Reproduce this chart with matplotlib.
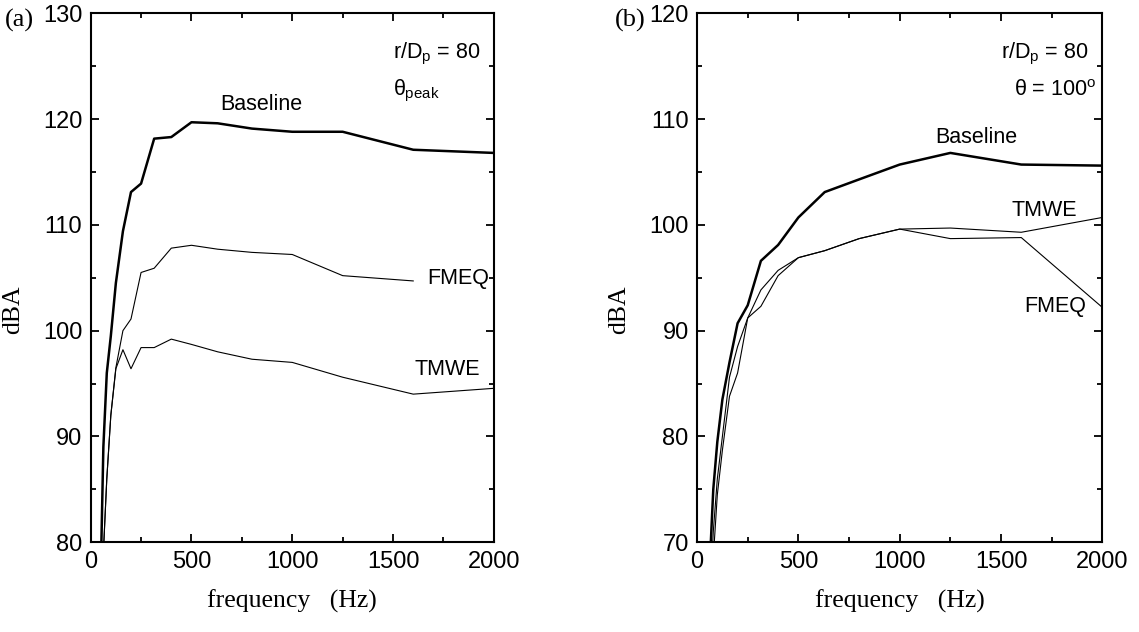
import matplotlib
matplotlib.use("Agg")
import matplotlib.pyplot as plt
from matplotlib.ticker import MultipleLocator

plt.rcParams['font.family'] = ['Liberation Sans', 'DejaVu Sans']
plt.rcParams['mathtext.fontset'] = 'custom'
plt.rcParams['mathtext.rm'] = 'Liberation Sans'
plt.rcParams['mathtext.it'] = 'Liberation Sans'

# 1/3-octave band centre frequencies (Hz)
freq = [50, 63, 80, 100, 125, 160, 200, 250, 315, 400, 500, 630, 800, 1000, 1250, 1600, 2000]

# (a) peak angle
a_baseline = [77.0, 89.0, 96.0, 99.5, 104.5, 109.4, 113.1, 113.9, 118.15, 118.3, 119.7, 119.6, 119.1, 118.8, 118.8, 117.1, 116.8]
a_fmeq_freq = freq[:-1]
a_fmeq = [70.0, 79.0, 86.0, 92.0, 96.5, 100.0, 101.1, 105.5, 105.9, 107.8, 108.07, 107.7, 107.4, 107.2, 105.2, 104.7]
a_tmwe = [70.0, 79.0, 86.0, 92.0, 96.4, 98.2, 96.4, 98.4, 98.4, 99.2, 98.7, 98.0, 97.3, 97.0, 95.6, 94.0, 94.55]

# (b) theta = 100 deg
b_baseline = [62.0, 68.0, 75.0, 79.5, 83.5, 87.0, 90.7, 92.4, 96.6, 98.1, 100.7, 103.1, 104.3, 105.7, 106.8, 105.7, 105.6]
b_tmwe = [60.0, 64.0, 71.0, 76.0, 80.0, 85.6, 88.5, 91.2, 93.85, 95.7, 96.9, 97.56, 98.7, 99.6, 99.7, 99.3, 100.7]
b_fmeq = [58.0, 62.0, 68.5, 74.5, 78.7, 83.8, 86.0, 91.2, 92.3, 95.2, 96.9, 97.56, 98.7, 99.6, 98.7, 98.8, 92.2]

fig = plt.figure(figsize=(11.39, 6.32), dpi=100)
ax1 = fig.add_axes([0.0796, 0.142, 0.354, 0.837])
ax2 = fig.add_axes([0.612, 0.142, 0.3558, 0.837])

thick = 1.8
thin = 0.8

ax1.plot(freq, a_baseline, color='black', lw=thick)
ax1.plot(a_fmeq_freq, a_fmeq, color='black', lw=thin)
ax1.plot(freq, a_tmwe, color='black', lw=thin)
ax1.set_ylim(80, 130)

ax2.plot(freq, b_baseline, color='black', lw=thick)
ax2.plot(freq, b_tmwe, color='black', lw=thin)
ax2.plot(freq, b_fmeq, color='black', lw=thin)
ax2.set_ylim(70, 120)

for ax in (ax1, ax2):
    ax.set_xlim(0, 2000)
    ax.xaxis.set_major_locator(MultipleLocator(500))
    ax.xaxis.set_minor_locator(MultipleLocator(250))
    ax.yaxis.set_major_locator(MultipleLocator(10))
    ax.yaxis.set_minor_locator(MultipleLocator(5))
    ax.tick_params(which='both', direction='in', top=True, right=True, width=1.3)
    ax.tick_params(which='major', length=6, labelsize=17, pad=6)
    ax.tick_params(which='minor', length=3.5)
    for s in ax.spines.values():
        s.set_linewidth(1.5)
    ax.set_xlabel('frequency   (Hz)', family='Liberation Serif', fontsize=18.5, labelpad=12)
    ax.set_ylabel('dBA', family='Liberation Serif', fontsize=18.5)
    ax.yaxis.set_label_coords(-0.165, 0.44)

# series labels
fs = 15.5
ax1.text(848, 121.4, 'Baseline', fontsize=fs, ha='center', va='center')
ax1.text(1822, 104.9, 'FMEQ', fontsize=fs, ha='center', va='center')
ax1.text(1771, 96.3, 'TMWE', fontsize=fs, ha='center', va='center')
ax2.text(1380, 108.3, 'Baseline', fontsize=fs, ha='center', va='center')
ax2.text(1711, 101.4, 'TMWE', fontsize=fs, ha='center', va='center')
ax2.text(1765, 92.3, 'FMEQ', fontsize=fs, ha='center', va='center')

# condition notes
ax1.text(0.75, 0.915, r'r/D$_{\rm p}$ = 80', transform=ax1.transAxes, fontsize=fs, ha='left', va='baseline')
ax1.text(0.75, 0.845, r'$\theta_{\rm peak}$', transform=ax1.transAxes, fontsize=fs, ha='left', va='baseline')
ax2.text(0.965, 0.915, r'r/D$_{\rm p}$ = 80', transform=ax2.transAxes, fontsize=fs, ha='right', va='baseline')
ax2.text(0.985, 0.843, r'$\theta$ = 100$^{\rm o}$', transform=ax2.transAxes, fontsize=fs, ha='right', va='baseline')

fig.text(5 / 1139, 1 - 20 / 632, '(a)', family='Liberation Serif', fontsize=19, ha='left', va='center')
fig.text(615 / 1139, 1 - 20 / 632, '(b)', family='Liberation Serif', fontsize=19, ha='left', va='center')

fig.savefig('out.png', dpi=100)
